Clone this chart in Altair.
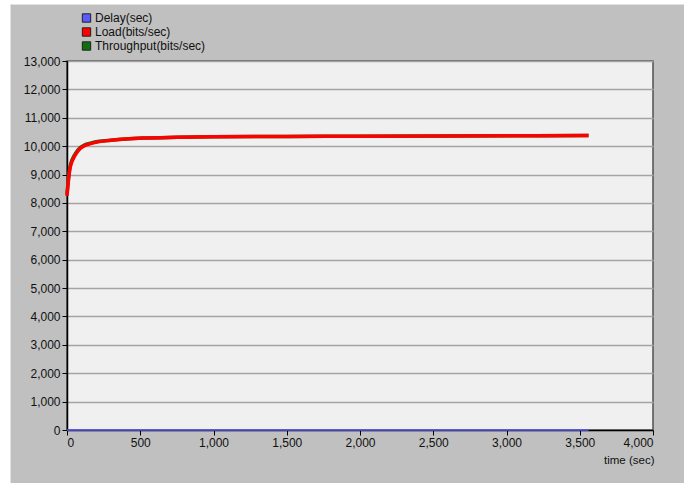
import altair as alt
import pandas as pd

# Simulation statistics sampled over time
time_sec = [0, 10, 20, 30, 45, 60, 90, 120, 160, 220, 300, 400, 520, 750,
            1000, 1500, 2000, 2600, 3200, 3560]
load_bps = [8250, 8800, 9200, 9400, 9580, 9720, 9920, 10020, 10090, 10160,
            10205, 10250, 10285, 10312, 10328, 10343, 10353, 10362, 10370, 10375]
throughput_bps = [8300, 8860, 9260, 9460, 9630, 9760, 9950, 10045, 10105, 10170,
                  10212, 10254, 10287, 10313, 10328, 10343, 10353, 10362, 10370, 10375]
delay_sec = [0.0, 0.0, 0.0, 0.0, 0.0, 0.0, 0.0, 0.0, 0.0, 0.0,
             0.0, 0.0, 0.0, 0.0, 0.0, 0.0, 0.0, 0.0, 0.0, 0.0]

series_names = ["Delay(sec)", "Load(bits/sec)", "Throughput(bits/sec)"]
series_colors = ["#5a5aff", "#ff0000", "#107010"]

y_ticks = list(range(0, 13001, 1000))
x_ticks = list(range(0, 4001, 500))

W, H = 586, 369
PAD = {"left": 67, "top": 61, "right": 31, "bottom": 53}

frames = []
for name, vals in zip(series_names, [delay_sec, load_bps, throughput_bps]):
    frames.append(pd.DataFrame({"time": time_sec, "value": vals, "series": name}))
df = pd.concat(frames, ignore_index=True)

x_enc = alt.X("time:Q", scale=alt.Scale(domain=[0, 4000], nice=False),
              axis=alt.Axis(values=x_ticks, format=",.0f", grid=False,
                            title="time (sec)", titleAnchor="end",
                            titleAlign="right", titleX=W + 1, titleY=30,
                            titleBaseline="middle", titleFontWeight="normal",
                            titleFontSize=11.5, labelPadding=2))
y_enc = alt.Y("value:Q", scale=alt.Scale(domain=[0, 13000], nice=False),
              axis=alt.Axis(values=y_ticks, format=",.0f", grid=True, title=None,
                            labelPadding=2))


def series_line(name, width):
    i = series_names.index(name)
    return alt.Chart(df).transform_filter(
        alt.datum.series == name
    ).mark_line(color=series_colors[i], strokeWidth=width,
                interpolate="monotone").encode(x=x_enc, y=y_enc)


lines = alt.layer(
    series_line("Delay(sec)", 1.5),
    series_line("Throughput(bits/sec)", 3.5),
    series_line("Load(bits/sec)", 3.5),
)

# Legend block above the plot area (pixel positions relative to the plot)
legend_df = pd.DataFrame({
    "label": series_names,
    "color": series_colors,
    "px": [19.5] * 3,
    "py": [-43, -29, -15],
    "tx": [28] * 3,
})
legend_sq = alt.Chart(legend_df).mark_square(
    size=70, stroke="#202020", strokeWidth=1, opacity=1, clip=False
).encode(
    x=alt.X("px:Q", scale=None, axis=None),
    y=alt.Y("py:Q", scale=None, axis=None),
    fill=alt.Color("color:N", scale=None, legend=None),
)
legend_tx = alt.Chart(legend_df).mark_text(
    align="left", baseline="middle", fontSize=12, font="Liberation Sans",
    color="#101010", clip=False
).encode(
    x=alt.X("tx:Q", scale=None, axis=None),
    y=alt.Y("py:Q", scale=None, axis=None),
    text="label:N",
)

# White strips along the top and left edge of the canvas
edge_df = pd.DataFrame({"a": [0]})
edge_left = alt.Chart(edge_df).mark_rect(color="white", clip=False).encode(
    x=alt.value(-PAD["left"]), x2=alt.value(-PAD["left"] + 10),
    y=alt.value(-PAD["top"]), y2=alt.value(H + PAD["bottom"]))
edge_top = alt.Chart(edge_df).mark_rect(color="white", clip=False).encode(
    x=alt.value(-PAD["left"]), x2=alt.value(W + PAD["right"]),
    y=alt.value(-PAD["top"]), y2=alt.value(-PAD["top"] + 4))
edge_line_top = alt.Chart(edge_df).mark_rule(color="#e2e2e2", strokeWidth=1, clip=False).encode(
    x=alt.value(-PAD["left"] + 10), x2=alt.value(W + PAD["right"]),
    y=alt.value(-PAD["top"] + 4.5))
edge_line_left = alt.Chart(edge_df).mark_rule(color="#e2e2e2", strokeWidth=1, clip=False).encode(
    x=alt.value(-PAD["left"] + 10.5),
    y=alt.value(-PAD["top"] + 4), y2=alt.value(H + PAD["bottom"]))

chart = alt.layer(
    lines, legend_sq, legend_tx, edge_left, edge_top, edge_line_top, edge_line_left
).properties(
    width=W, height=H,
    autosize=alt.AutoSizeParams(type="none"),
    padding=PAD,
    background="#c0c0c0",
).configure_view(
    fill="#f0f0f0", stroke="#505050", strokeWidth=1.5,
).configure_axis(
    labelFont="Liberation Sans", labelFontSize=12, labelColor="#101010",
    titleFont="Liberation Sans", titleColor="#101010",
    domainColor="#000000", domainWidth=1.5,
    tickColor="#000000", tickSize=5, tickWidth=1,
    gridColor="#a4a4a4", gridWidth=1.5,
)

chart.save("out.html", embed_options={"renderer": "svg", "actions": False})
